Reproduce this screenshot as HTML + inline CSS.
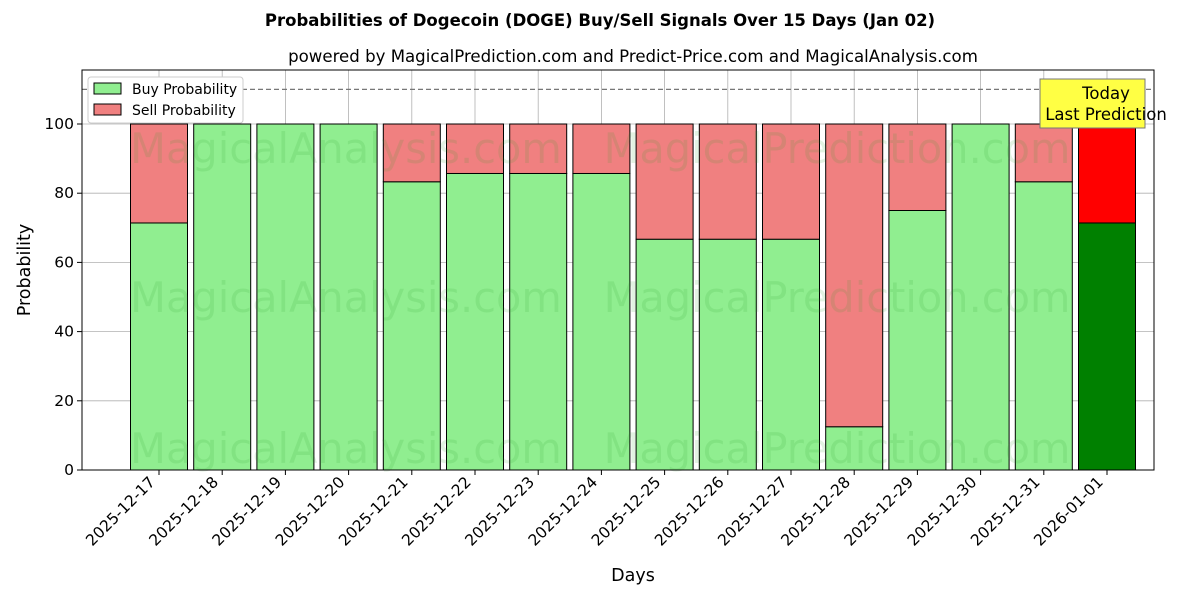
<!DOCTYPE html>
<html><head><meta charset="utf-8"><style>body{margin:0;background:#fff}svg{display:block;font-family:"DejaVu Sans","Liberation Sans",sans-serif}</style></head>
<body>
<svg id="chart" width="1200" height="600" xmlns="http://www.w3.org/2000/svg">
<text x="600" y="26" text-anchor="middle" font-size="16.5" font-weight="bold">Probabilities of Dogecoin (DOGE) Buy/Sell Signals Over 15 Days (Jan 02)</text>
<text x="633" y="62" text-anchor="middle" font-size="16.6">powered by MagicalPrediction.com and Predict-Price.com and MagicalAnalysis.com</text>
<g id="grid"></g><g id="bars"></g>
<g font-size="41.5" fill="#2ca02c" opacity="0.13">
<text x="346" y="163" text-anchor="middle">MagicalAnalysis.com</text><text x="837" y="163" text-anchor="middle">MagicalPrediction.com</text>
<text x="346" y="312" text-anchor="middle">MagicalAnalysis.com</text><text x="837" y="312" text-anchor="middle">MagicalPrediction.com</text>
<text x="346" y="463" text-anchor="middle">MagicalAnalysis.com</text><text x="837" y="463" text-anchor="middle">MagicalPrediction.com</text></g>
<line id="thr" x1="82" x2="1154" stroke="#777" stroke-dasharray="5,3" stroke-width="1.2"/>
<g id="axes"></g>
<rect x="82" y="70" width="1072" height="400" fill="none" stroke="#000" stroke-width="1"/>
<text transform="translate(30,270) rotate(-90)" text-anchor="middle" font-size="17.5">Probability</text>
<text x="633" y="581" text-anchor="middle" font-size="17.5">Days</text>
<g>
<rect x="88" y="77" width="155" height="46" fill="#fff" stroke="#ccc" rx="3"/>
<rect x="94" y="83" width="27" height="11" fill="#90ee90" stroke="#000"/>
<text x="132" y="94" font-size="14">Buy Probability</text>
<rect x="94" y="104" width="27" height="11" fill="#f08080" stroke="#000"/>
<text x="132" y="115" font-size="14">Sell Probability</text></g>
<g>
<rect x="1040" y="79" width="105" height="49" fill="#ffff44" stroke="#777"/>
<text x="1106" y="99" text-anchor="middle" font-size="16.5">Today</text>
<text x="1106" y="120" text-anchor="middle" font-size="16.5">Last Prediction</text></g>
</svg>
<script>
const days=["2025-12-17","2025-12-18","2025-12-19","2025-12-20","2025-12-21","2025-12-22","2025-12-23","2025-12-24","2025-12-25","2025-12-26","2025-12-27","2025-12-28","2025-12-29","2025-12-30","2025-12-31","2026-01-01"];
const buyValues=[71.4,100,100,100,83.3,85.7,85.7,85.7,66.7,66.7,66.7,12.5,75,100,83.3,71.4];
const sellValues=[28.6,0,0,0,16.7,14.3,14.3,14.3,33.3,33.3,33.3,87.5,25,0,16.7,28.6];
const yTicks=[0,20,40,60,80,100];
const threshold=110;
const NS="http://www.w3.org/2000/svg";
const xs=i=>159+i*63.2, ys=v=>470-v*3.46, bw=57;
function mk(t,a,p){const e=document.createElementNS(NS,t);for(const k in a)e.setAttribute(k,a[k]);p.appendChild(e);return e;}
const grid=document.getElementById('grid'),bars=document.getElementById('bars'),axes=document.getElementById('axes');
document.getElementById('thr').setAttribute('y1',ys(threshold));document.getElementById('thr').setAttribute('y2',ys(threshold));
yTicks.forEach(v=>{
 const g=mk('line',{x1:82,x2:1154,y1:ys(v),y2:ys(v),stroke:'#b0b0b0','stroke-width':0.8},grid);
 
 
 const tk=mk('line',{x1:77,x2:82,y1:ys(v),y2:ys(v),stroke:'#000'},axes);
 
 
 const t=mk('text',{x:74,y:ys(v)+5,'text-anchor':'end','font-size':15.5},axes);t.textContent=v;
 
 
});
days.forEach((d,i)=>{
 const x=xs(i);
 const g=mk('line',{x1:x,x2:x,y1:70,y2:470,stroke:'#b0b0b0','stroke-width':0.8},grid);
 
 
 const last=i===days.length-1;
 const b=mk('rect',{x:x-bw/2,y:ys(buyValues[i]),width:bw,height:buyValues[i]*3.46,fill:last?'#008000':'#90ee90',stroke:'#000','stroke-width':1},bars);
 
 
 if(sellValues[i]>0){
  const s=mk('rect',{x:x-bw/2,y:ys(buyValues[i]+sellValues[i]),width:bw,height:sellValues[i]*3.46,fill:last?'#ff0000':'#f08080',stroke:'#000','stroke-width':1},bars);
  
  
 }
 const tk=mk('line',{x1:x,x2:x,y1:470,y2:475,stroke:'#000'},axes);
 
 
 const lx=x-3,ly=483;
 const t=mk('text',{x:lx,y:ly,'text-anchor':'end','font-size':15.5,transform:`rotate(-45 ${lx} ${ly})`},axes);t.textContent=d;
 
 
});
</script>
</body></html>
